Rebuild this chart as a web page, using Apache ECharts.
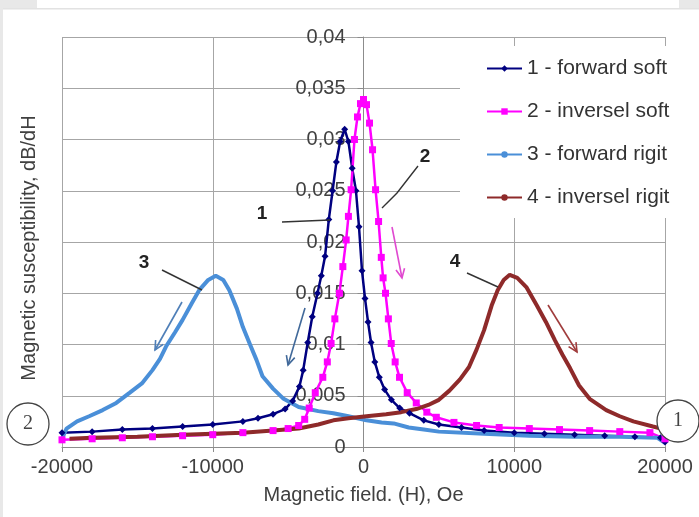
<!DOCTYPE html>
<html>
<head>
<meta charset="utf-8">
<script src="https://cdn.jsdelivr.net/npm/echarts@6/dist/echarts.min.js"></script>
<style>
html, body { margin: 0; padding: 0; background: #fff; }
#chart { width: 699px; height: 517px; }
</style>
</head>
<body>
<div id="chart"></div>
<script>
// legend names
var seriesNames = ['1 - forward soft', '2 - inversel soft', '3 - forward rigit', '4 - inversel rigit'];

// 1 - forward soft (H, Oe / dB/dH)
var fwdSoftH = [-20000, -18000, -16000, -14000, -12000, -10000, -8000, -7000, -6000, -5200, -4700, -4250, -4000, -3700, -3400, -3050, -2800, -2550, -2300, -2050, -1800, -1550, -1250, -1000, -750, -500, -300, -100, 100, 300, 500, 750, 1050, 1400, 1850, 2400, 3050, 4000, 5000, 6500, 8000, 10000, 12000, 14000, 16000, 18000, 19700, 20000];
var fwdSoftV = [0.0014, 0.0015, 0.0017, 0.0018, 0.0020, 0.0022, 0.0025, 0.0028, 0.0032, 0.0037, 0.0045, 0.0059, 0.0075, 0.0102, 0.0127, 0.0150, 0.0167, 0.0186, 0.0222, 0.0250, 0.0278, 0.0298, 0.0310, 0.0298, 0.0272, 0.0250, 0.0215, 0.0172, 0.0145, 0.0122, 0.0102, 0.0083, 0.0068, 0.0056, 0.0046, 0.0038, 0.0033, 0.0026, 0.0022, 0.0019, 0.0016, 0.0014, 0.0013, 0.0012, 0.0011, 0.0010, 0.0009, 0.0005];

// 2 - inversel soft
var invSoftH = [-20000, -18000, -16000, -14000, -12000, -10000, -8000, -6000, -5000, -4300, -3900, -3600, -3200, -2700, -2400, -2150, -1900, -1600, -1370, -1150, -1000, -820, -600, -400, -200, 0, 200, 400, 600, 800, 1000, 1180, 1300, 1460, 1650, 1840, 2100, 2390, 2900, 3500, 4200, 4830, 6000, 7500, 9000, 11000, 13000, 15000, 17000, 19000, 20000];
var invSoftV = [0.0007, 0.0008, 0.0009, 0.0010, 0.0011, 0.0012, 0.0014, 0.0016, 0.0018, 0.0021, 0.0027, 0.0038, 0.0053, 0.0068, 0.0083, 0.0101, 0.0125, 0.0150, 0.0176, 0.0202, 0.0225, 0.0251, 0.0300, 0.0322, 0.0335, 0.0339, 0.0334, 0.0316, 0.0290, 0.0251, 0.0220, 0.0185, 0.0165, 0.0150, 0.0125, 0.0101, 0.0083, 0.0068, 0.0053, 0.0043, 0.0034, 0.0029, 0.0024, 0.0021, 0.0019, 0.0018, 0.0017, 0.0016, 0.0015, 0.0014, 0.0008];

// 3 - forward rigit
var fwdRigidH = [-20000, -19700, -19000, -18200, -17300, -16400, -15500, -14700, -14000, -13500, -13100, -12500, -12000, -11400, -10900, -10300, -9800, -9300, -8900, -8400, -8000, -7500, -7100, -6700, -6000, -5300, -4300, -3000, -2000, -1000, 200, 1200, 2000, 3000, 4000, 5000, 8000, 11000, 14000, 17000, 19500, 20000];
var fwdRigidV = [0.0008, 0.0018, 0.0025, 0.0030, 0.0036, 0.0043, 0.0053, 0.0062, 0.0075, 0.0086, 0.0098, 0.0112, 0.0124, 0.0140, 0.0153, 0.0163, 0.0167, 0.0163, 0.0153, 0.0135, 0.0117, 0.0099, 0.0085, 0.0069, 0.0057, 0.0047, 0.0039, 0.0035, 0.0033, 0.0030, 0.0026, 0.0024, 0.0023, 0.0019, 0.0017, 0.0015, 0.0013, 0.0011, 0.0010, 0.0010, 0.0009, 0.0004];

// 4 - inversel rigit
var invRigidH = [-19500, -18000, -15000, -12000, -10000, -8000, -6000, -4300, -3000, -2000, -1000, 200, 1500, 2500, 3500, 4300, 5000, 5700, 6400, 7000, 7500, 8000, 8500, 8900, 9300, 9700, 10200, 10800, 11500, 12100, 12700, 13200, 13700, 14300, 15000, 16100, 17000, 17900, 19200, 20000];
var invRigidV = [0.0008, 0.0009, 0.0010, 0.0012, 0.0013, 0.0014, 0.0016, 0.0018, 0.0022, 0.0026, 0.0028, 0.0030, 0.0032, 0.0034, 0.0037, 0.0041, 0.0046, 0.0055, 0.0066, 0.0078, 0.0095, 0.0114, 0.0138, 0.0153, 0.0163, 0.0168, 0.0165, 0.0156, 0.0138, 0.0122, 0.0104, 0.0090, 0.0077, 0.0060, 0.0047, 0.0036, 0.0030, 0.0025, 0.0020, 0.0017];

function pairs(xs, ys) {
    return xs.map(function (x, i) { return [x, ys[i]]; });
}

var font = 'Arial, "Liberation Sans", sans-serif';
var textColor = '#404040';
var gridColor = '#a6a6a6';

// arrow = shaft + open head at the end point
function arrow(x1, y1, x2, y2, color) {
    var a = Math.atan2(y2 - y1, x2 - x1), L = 10, s = 0.45;
    return [
        { type: 'line', z: 50, shape: { x1: x1, y1: y1, x2: x2, y2: y2 }, style: { stroke: color, lineWidth: 1.6 } },
        { type: 'polyline', z: 50, shape: { points: [
            [x2 - L * Math.cos(a - s), y2 - L * Math.sin(a - s)], [x2, y2],
            [x2 - L * Math.cos(a + s), y2 - L * Math.sin(a + s)] ] },
          style: { stroke: color, lineWidth: 1.6, fill: null } }
    ];
}
function leader(points) {
    return { type: 'polyline', z: 50, shape: { points: points }, style: { stroke: '#333', lineWidth: 1.4, fill: null } };
}
function tag(t, x, y) {
    return { type: 'text', z: 50, x: x, y: y, style: { text: t, font: 'bold 19px ' + font, fill: '#222', align: 'center', verticalAlign: 'middle' } };
}
function ring(t, x, y) {
    return [
        { type: 'circle', z: 60, shape: { cx: x, cy: y, r: 21 }, style: { fill: '#fff', stroke: '#444', lineWidth: 1.3 } },
        { type: 'text', z: 61, x: x, y: y, style: { text: t, font: '20px "Liberation Serif", "DejaVu Serif", serif', fill: '#444', align: 'center', verticalAlign: 'middle' } }
    ];
}

var graphics = [
    // screenshot frame
    { type: 'rect', z: 70, shape: { x: 0, y: 0, width: 37, height: 8 }, style: { fill: '#e8e8e8' } },
    { type: 'rect', z: 70, shape: { x: 679, y: 0, width: 20, height: 8 }, style: { fill: '#e8e8e8' } },
    { type: 'rect', z: 70, shape: { x: 0, y: 8, width: 699, height: 1.5 }, style: { fill: '#e2e2e2' } },
    { type: 'rect', z: 70, shape: { x: 0, y: 8, width: 3, height: 509 }, style: { fill: '#e8e8e8' } },
    // y axis title
    { type: 'text', z: 50, x: 29, y: 248, rotation: Math.PI / 2,
      style: { text: 'Magnetic susceptibility, dB/dH', font: '20px ' + font, fill: textColor, align: 'center', verticalAlign: 'middle' } },
    tag('1', 262, 214), tag('2', 425, 157), tag('3', 144, 263), tag('4', 455, 262),
    leader([[282, 222], [330, 220]]),
    leader([[382, 208], [397, 193], [418, 166]]),
    leader([[162, 270], [202, 290]]),
    leader([[467, 273], [498, 287]])
].concat(
    arrow(182, 302, 155, 350, '#4f7fb8'),
    arrow(305, 308, 288, 365, '#41699a'),
    arrow(392, 227, 402, 278, '#e04ad0'),
    arrow(548, 305, 577, 352, '#a03c3c'),
    ring('2', 28, 424),
    ring('1', 678, 421)
);

var myChart = echarts.init(document.getElementById('chart'));
var option = {
    animation: false,
    backgroundColor: '#fff',
    grid: { left: 62, right: 34, top: 37, bottom: 70, outerBoundsMode: 'none' },
    legend: {
        orient: 'vertical',
        left: 460,
        top: 46,
        padding: [12, 40, 10, 26],
        backgroundColor: '#fff',
        itemWidth: 35,
        itemHeight: 8,
        itemGap: 22,
        data: seriesNames,
        textStyle: { fontSize: 21, fontFamily: font, color: '#333', lineHeight: 20 }
    },
    xAxis: {
        type: 'value',
        min: -20000,
        max: 20000,
        interval: 10000,
        name: 'Magnetic field. (H), Oe',
        nameLocation: 'middle',
        nameGap: 38,
        nameTextStyle: { fontSize: 20, fontFamily: font, color: textColor },
        axisLine: { onZero: false, lineStyle: { color: '#8c8c8c' } },
        axisTick: { show: true, length: 5, lineStyle: { color: '#8c8c8c' } },
        axisLabel: { fontSize: 20, fontFamily: font, color: textColor, margin: 10,
            formatter: function (v) { return String(v); } },
        splitLine: { show: true, lineStyle: { color: gridColor } }
    },
    yAxis: {
        type: 'value',
        min: 0,
        max: 0.04,
        interval: 0.005,
        axisLine: { show: true, lineStyle: { color: '#8c8c8c' } },
        axisTick: { show: true, length: 6, lineStyle: { color: '#8c8c8c' } },
        axisLabel: { fontSize: 20, fontFamily: font, color: textColor, margin: 18,
            formatter: function (v) { return String(+v.toFixed(3)).replace('.', ','); } },
        splitLine: { show: true, lineStyle: { color: gridColor } }
    },
    series: [
        { name: seriesNames[0], type: 'line', data: pairs(fwdSoftH, fwdSoftV), color: '#000080',
          symbol: 'diamond', symbolSize: 7, lineStyle: { width: 2.5 } },
        { name: seriesNames[1], type: 'line', data: pairs(invSoftH, invSoftV), color: '#ff00ff',
          symbol: 'rect', symbolSize: 7, lineStyle: { width: 2.5 } },
        { name: seriesNames[2], type: 'line', data: pairs(fwdRigidH, fwdRigidV), color: '#4a8fd8',
          symbol: 'circle', symbolSize: 3, showSymbol: false, lineStyle: { width: 4 } },
        { name: seriesNames[3], type: 'line', data: pairs(invRigidH, invRigidV), color: '#8e2a2a',
          symbol: 'circle', symbolSize: 3, showSymbol: false, lineStyle: { width: 4 } }
    ],
    graphic: graphics
};
myChart.setOption(option);

// move the y axis (line + labels) to H = 0, like the original plot
var zeroX = myChart.convertToPixel({ xAxisIndex: 0 }, 0);
var leftX = myChart.convertToPixel({ xAxisIndex: 0 }, -20000);
myChart.setOption({ yAxis: { offset: -(zeroX - leftX) } });
</script>
</body>
</html>
